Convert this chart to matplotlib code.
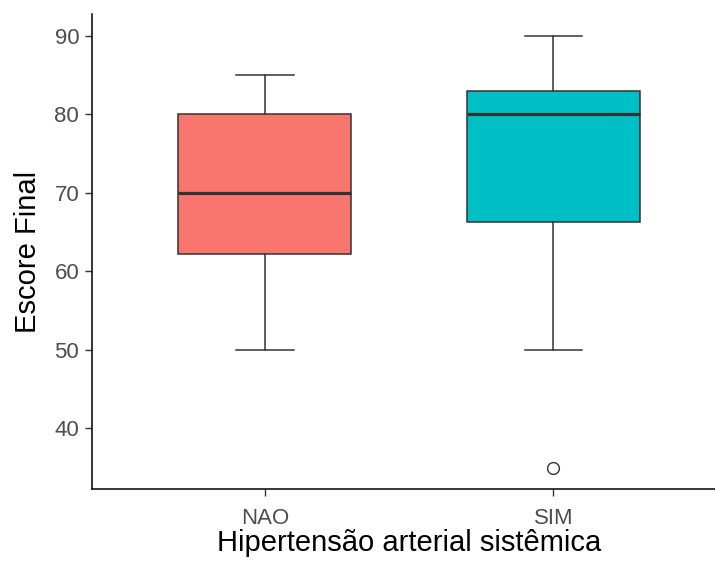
import matplotlib
matplotlib.use("Agg")
import matplotlib.pyplot as plt

plt.rcParams['font.family'] = ['Liberation Sans', 'DejaVu Sans']

# values
groups = ['NAO', 'SIM']
whisker_low = [50, 50]
q1 = [62.25, 66.25]
median = [70, 80]
q3 = [80, 83]
whisker_high = [85, 90]
outliers = [[], [35]]
colors = ['#F8766D', '#00BFC4']
yticks = [40, 50, 60, 70, 80, 90]

stats = []
for i, g in enumerate(groups):
    stats.append(dict(label=g, whislo=whisker_low[i], q1=q1[i], med=median[i],
                      q3=q3[i], whishi=whisker_high[i], fliers=outliers[i]))

fig = plt.figure(figsize=(7.15, 5.65), dpi=100)
W, H = 715, 565
left, bottom, top = 91.7, 489.3, 14
width = 2.2 * 288.6
ax = fig.add_axes((left / W, (H - bottom) / H, width / W, (bottom - top) / H))

edge = '#333333'
bp = ax.bxp(stats, positions=[1, 2], widths=0.6, patch_artist=True,
            showfliers=True,
            boxprops=dict(edgecolor=edge, linewidth=1.1),
            medianprops=dict(color=edge, linewidth=2.3, solid_capstyle='butt'),
            whiskerprops=dict(color=edge, linewidth=1.1),
            capprops=dict(color=edge, linewidth=1.1),
            capwidths=0.2,
            flierprops=dict(marker='o', markerfacecolor='white',
                            markeredgecolor=edge, markersize=8.5,
                            markeredgewidth=1.0))
for patch, c in zip(bp['boxes'], colors):
    patch.set_facecolor(c)

ax.set_xlim(0.4, 2.6)
ax.set_ylim(32.25, 92.75)
ax.set_xticks([1, 2])
ax.set_xticklabels(groups)
ax.set_yticks(yticks)

for s in ['top', 'right']:
    ax.spines[s].set_visible(False)
for s in ['left', 'bottom']:
    ax.spines[s].set_color('black')
    ax.spines[s].set_linewidth(1.1)

ax.tick_params(axis='both', length=5, width=1.0, color=edge,
               labelcolor='#4D4D4D', labelsize=16)
ax.tick_params(axis='x', pad=8.5)
ax.tick_params(axis='y', pad=4)

ax.set_xlabel('Hipertensão arterial sistêmica', fontsize=21, color='black', labelpad=0)
ax.set_ylabel('Escore Final', fontsize=21, color='black', labelpad=9)

fig.savefig('out.png', dpi=100)
